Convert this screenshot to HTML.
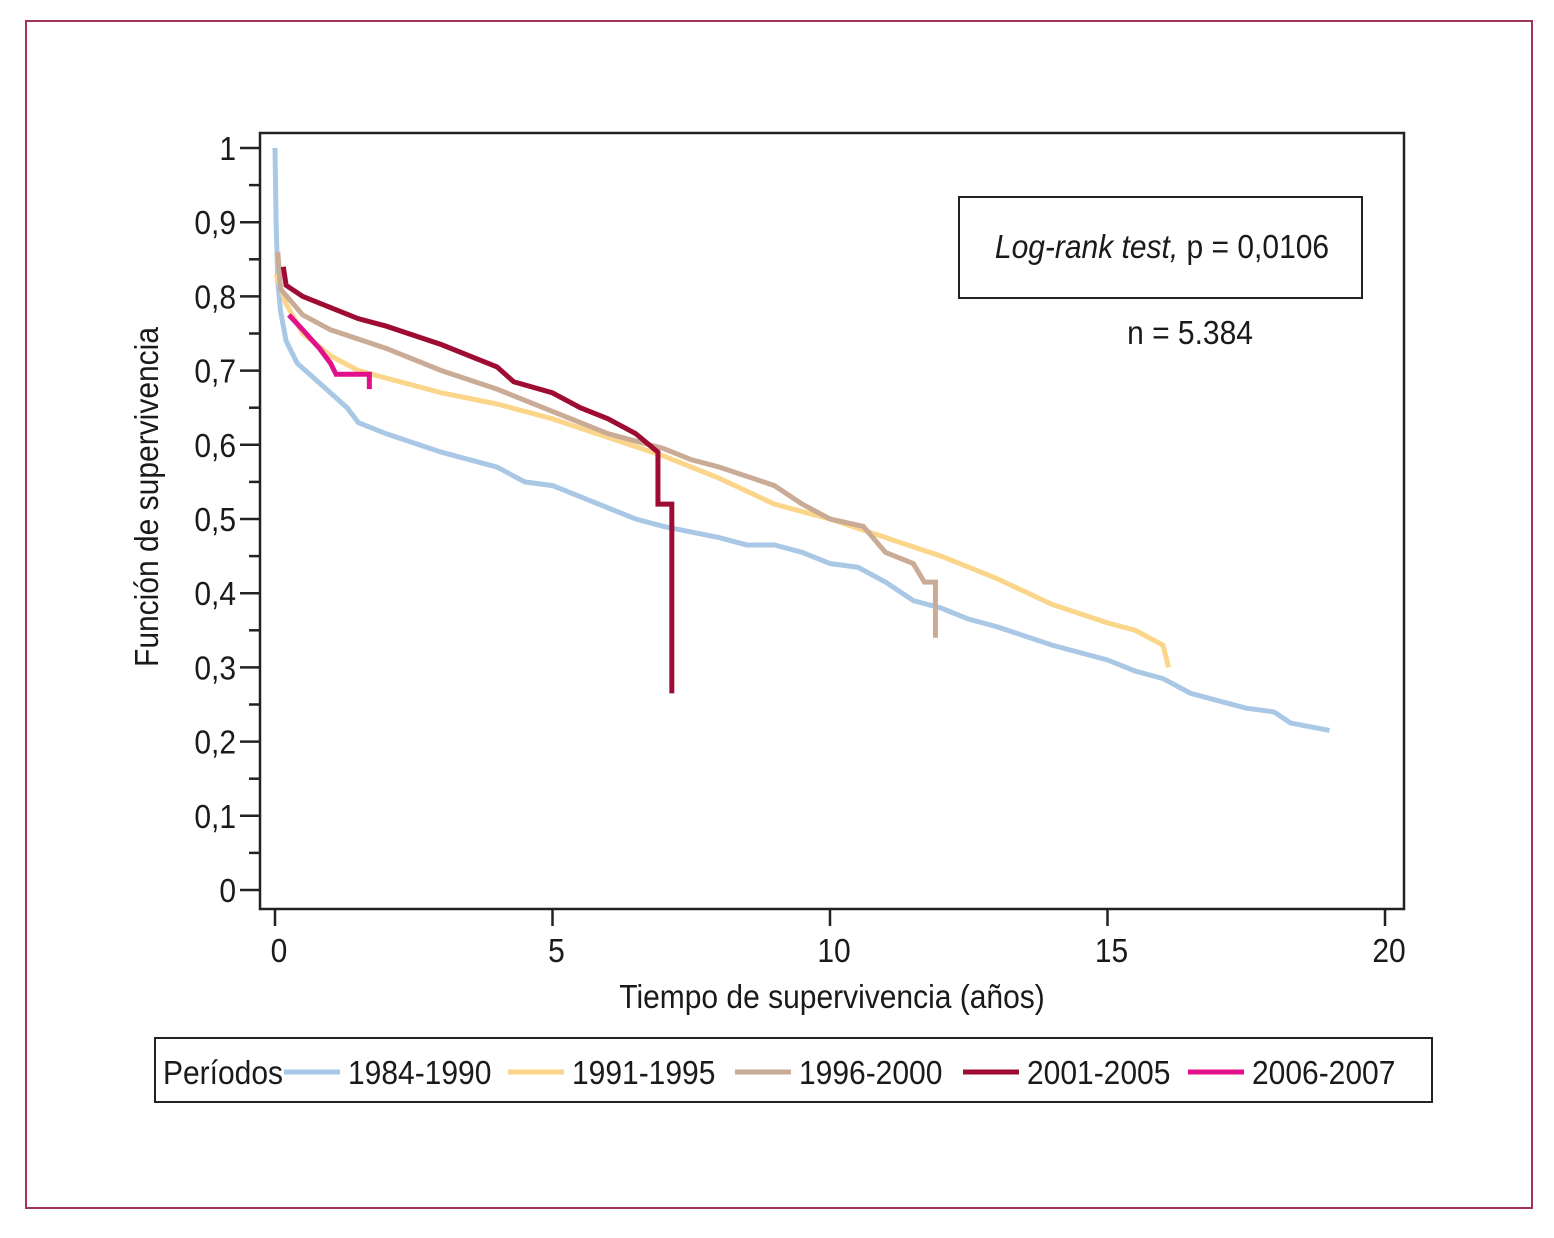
<!DOCTYPE html>
<html><head><meta charset="utf-8"><style>
html,body{margin:0;padding:0;background:#fff}
svg text{font-family:"Liberation Sans Narrow","Liberation Sans",sans-serif;fill:#1a1a1a}
</style></head><body>
<svg id="chart" width="1554" height="1233" viewBox="0 0 1554 1233" xmlns="http://www.w3.org/2000/svg">
<rect x="26" y="21" width="1506" height="1187" fill="#fff" stroke="#a0345f" stroke-width="2"/>
<rect x="260" y="133" width="1144" height="776" fill="none" stroke="#222" stroke-width="2.5"/>
<g id="yaxis"></g>
<g id="xaxis"></g>
<g id="series"></g>
<text transform="translate(158,497) rotate(-90) scale(1,1.1)" text-anchor="middle" font-size="30">Función de supervivencia</text>
<text transform="translate(832,1008) scale(1,1.1)" text-anchor="middle" font-size="30">Tiempo de supervivencia (años)</text>
<rect x="959" y="197" width="403" height="101" fill="#fff" stroke="#222" stroke-width="2"/>
<text transform="translate(1162,258) scale(1,1.1)" text-anchor="middle" font-size="30"><tspan font-style="italic">Log-rank test,</tspan> p = 0,0106</text>
<text transform="translate(1190,344) scale(1,1.1)" text-anchor="middle" font-size="30">n = 5.384</text>
<rect x="155" y="1038" width="1277" height="64" fill="#fff" stroke="#222" stroke-width="2"/>
<text transform="translate(163,1084) scale(1,1.1)" font-size="30">Períodos</text>
<g id="legend"></g>
</svg>
<script>
const NS="http://www.w3.org/2000/svg";
const yTicks=[0,0.1,0.2,0.3,0.4,0.5,0.6,0.7,0.8,0.9,1];
const yTickLabels=["0","0,1","0,2","0,3","0,4","0,5","0,6","0,7","0,8","0,9","1"];
const xTicks=[0,5,10,15,20];
const seriesNames=["1984-1990","1991-1995","1996-2000","2001-2005","2006-2007"];
const seriesColors=["#a9c8e6","#fbd68a","#c9ab96","#9e0b33","#e0118a"];
const t1=[0,0.02,0.05,0.1,0.2,0.4,0.7,1.0,1.3,1.5,2,3,4,4.5,5,6,6.5,7,8,8.5,9,9.5,10,10.5,11,11.5,12,12.5,13,14,15,15.5,16,16.5,17,17.5,18,18.3,19];
const s1=[1.0,0.9,0.82,0.78,0.74,0.71,0.69,0.67,0.65,0.63,0.615,0.59,0.57,0.55,0.545,0.515,0.5,0.49,0.475,0.465,0.465,0.455,0.44,0.435,0.415,0.39,0.38,0.365,0.355,0.33,0.31,0.295,0.285,0.265,0.255,0.245,0.24,0.225,0.215];
const t2=[0.02,0.2,0.5,1,1.5,2,3,4,5,6,7,8,9,10,11,12,13,14,15,15.5,16,16.1];
const s2=[0.83,0.79,0.75,0.72,0.7,0.69,0.67,0.655,0.635,0.61,0.585,0.555,0.52,0.5,0.475,0.45,0.42,0.385,0.36,0.35,0.33,0.3];
const t3=[0.05,0.1,0.5,1,2,3,4,5,6,7,7.5,8,9,9.5,10,10.6,11,11.5,11.7,11.9,11.9];
const s3=[0.86,0.81,0.775,0.755,0.73,0.7,0.675,0.645,0.615,0.595,0.58,0.57,0.545,0.52,0.5,0.49,0.455,0.44,0.415,0.415,0.34];
const t4=[0.15,0.2,0.5,1,1.5,2,3,4,4.3,5,5.5,6,6.5,6.9,6.9,7.15,7.15];
const s4=[0.84,0.815,0.8,0.785,0.77,0.76,0.735,0.705,0.685,0.67,0.65,0.635,0.615,0.59,0.52,0.52,0.265];
const t5=[0.25,0.5,0.8,1,1.1,1.7,1.7];
const s5=[0.775,0.755,0.73,0.71,0.695,0.695,0.675];
const T=[t1,t2,t3,t4,t5], S=[s1,s2,s3,s4,s5];
const X=t=>275+t*55.5, Y=v=>890-v*742;
function el(tag,attrs,parent){const e=document.createElementNS(NS,tag);for(const k in attrs)e.setAttribute(k,attrs[k]);parent.appendChild(e);return e;}
const ya=document.getElementById('yaxis');
yTicks.forEach((v,i)=>{
  const l=el('line',{x1:240,x2:260,y1:Y(v),y2:Y(v),stroke:'#222','stroke-width':2.5},ya);
  
  
  const t=el('text',{transform:'translate(236,'+(Y(v)+12)+') scale(1,1.1)','text-anchor':'end','font-size':30},ya);
  t.textContent=yTickLabels[i];
  
  
  if(i<yTicks.length-1){
    const m=el('line',{x1:249,x2:260,y1:Y(v+0.05),y2:Y(v+0.05),stroke:'#222','stroke-width':2.5},ya);
    
    
  }
});
const xa=document.getElementById('xaxis');
xTicks.forEach(v=>{
  const l=el('line',{x1:X(v),x2:X(v),y1:909,y2:926,stroke:'#222','stroke-width':2.5},xa);
  
  
  const t=el('text',{transform:'translate('+(X(v)+4)+',962) scale(1,1.1)','text-anchor':'middle','font-size':30},xa);
  t.textContent=String(v);
  
  
});
const sg=document.getElementById('series');
T.forEach((ts,k)=>{
  const ss=S[k];let d='M'+X(ts[0])+','+Y(ss[0]);
  for(let i=1;i<ts.length;i++){d+=' L'+X(ts[i])+','+Y(ss[i]);}
  const p=el('path',{d:d,fill:'none',stroke:seriesColors[k],'stroke-width':5,'stroke-linejoin':'miter'},sg);
  
  
});
const lg=document.getElementById('legend');
const lx=[284,508,735,963,1188];
seriesNames.forEach((n,k)=>{
  const l=el('line',{x1:lx[k],x2:lx[k]+56,y1:1072,y2:1072,stroke:seriesColors[k],'stroke-width':5},lg);
  
  
  const t=el('text',{transform:'translate('+(lx[k]+64)+',1084) scale(1,1.1)','font-size':30},lg);
  t.textContent=n;
  
  
});
</script>
</body></html>
